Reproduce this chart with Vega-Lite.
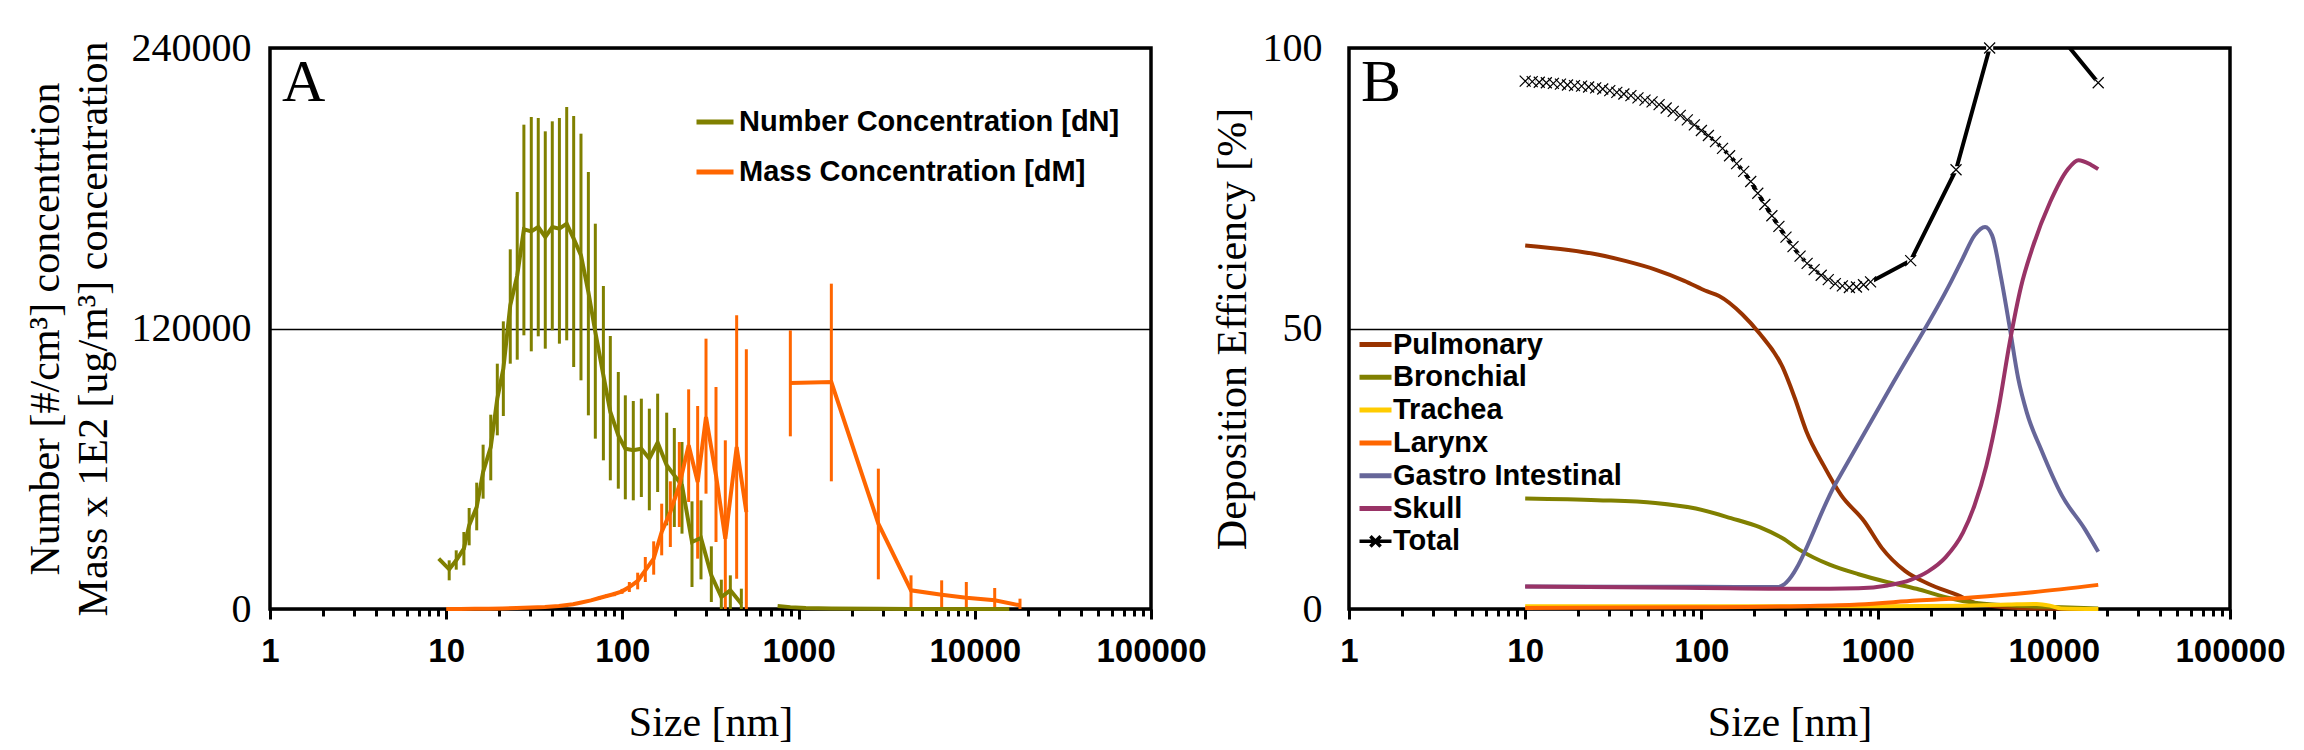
{
  "$schema": "https://vega.github.io/schema/vega-lite/v6.json",
  "background": "white",
  "padding": {"left": 22, "top": 26, "right": 5, "bottom": 0},
  "spacing": 1,
  "config": {
    "font": "Liberation Serif",
    "view": {"stroke": "#000000", "strokeWidth": 3.5},
    "axis": {"labelColor": "#000000", "titleColor": "#000000", "titleFont": "Liberation Serif", "titleFontWeight": "normal", "titleFontSize": 42},
    "legend": {"labelFont": "Liberation Sans", "labelFontWeight": "bold", "labelFontSize": 29, "labelColor": "#000000", "labelLimit": 700, "symbolType": "stroke", "symbolStrokeWidth": 5, "padding": 0, "labelOffset": 3, "orient": "none", "title": null},
    "title": {"font": "Liberation Serif", "fontWeight": "normal", "fontSize": 60, "color": "#000000", "anchor": "start", "frame": "group"}
  },
  "resolve": {"scale": {"color": "independent"}, "legend": {"color": "independent"}},
  "datasets": {
    "conc": [
      {"series": "Number Concentration [dN]", "seg": 1, "size": 9.07, "value": 21530, "lo": 21530, "hi": 21530},
      {"series": "Number Concentration [dN]", "seg": 1, "size": 10.4, "value": 16970, "lo": 12260, "hi": 20820},
      {"series": "Number Concentration [dN]", "seg": 1, "size": 11.4, "value": 20820, "lo": 16830, "hi": 25100},
      {"series": "Number Concentration [dN]", "seg": 1, "size": 12.6, "value": 25810, "lo": 18680, "hi": 32940},
      {"series": "Number Concentration [dN]", "seg": 1, "size": 13.5, "value": 35790, "lo": 27240, "hi": 43210},
      {"series": "Number Concentration [dN]", "seg": 1, "size": 14.9, "value": 43640, "lo": 33650, "hi": 54050},
      {"series": "Number Concentration [dN]", "seg": 1, "size": 16.2, "value": 58610, "lo": 47200, "hi": 70300},
      {"series": "Number Concentration [dN]", "seg": 1, "size": 17.9, "value": 69300, "lo": 55040, "hi": 83130},
      {"series": "Number Concentration [dN]", "seg": 1, "size": 19.5, "value": 89980, "lo": 74290, "hi": 104950},
      {"series": "Number Concentration [dN]", "seg": 1, "size": 21.1, "value": 102810, "lo": 82570, "hi": 123060},
      {"series": "Number Concentration [dN]", "seg": 1, "size": 23.1, "value": 129910, "lo": 104950, "hi": 153870},
      {"series": "Number Concentration [dN]", "seg": 1, "size": 25.3, "value": 142740, "lo": 106660, "hi": 178390},
      {"series": "Number Concentration [dN]", "seg": 1, "size": 27.6, "value": 162420, "lo": 117080, "hi": 207200},
      {"series": "Number Concentration [dN]", "seg": 1, "size": 30.4, "value": 161570, "lo": 110230, "hi": 210480},
      {"series": "Number Concentration [dN]", "seg": 1, "size": 33.3, "value": 163420, "lo": 116650, "hi": 210050},
      {"series": "Number Concentration [dN]", "seg": 1, "size": 36.5, "value": 159140, "lo": 111370, "hi": 204350},
      {"series": "Number Concentration [dN]", "seg": 1, "size": 40.0, "value": 163420, "lo": 119210, "hi": 208630},
      {"series": "Number Concentration [dN]", "seg": 1, "size": 43.9, "value": 162710, "lo": 113510, "hi": 210050},
      {"series": "Number Concentration [dN]", "seg": 1, "size": 48.3, "value": 164840, "lo": 114940, "hi": 214760},
      {"series": "Number Concentration [dN]", "seg": 1, "size": 52.9, "value": 158430, "lo": 103530, "hi": 210900},
      {"series": "Number Concentration [dN]", "seg": 1, "size": 58.2, "value": 151300, "lo": 97830, "hi": 203350},
      {"series": "Number Concentration [dN]", "seg": 1, "size": 64.1, "value": 135610, "lo": 82850, "hi": 186950},
      {"series": "Number Concentration [dN]", "seg": 1, "size": 70.2, "value": 118500, "lo": 72870, "hi": 164840},
      {"series": "Number Concentration [dN]", "seg": 1, "size": 78.0, "value": 99960, "lo": 63600, "hi": 138180},
      {"series": "Number Concentration [dN]", "seg": 1, "size": 85.4, "value": 84280, "lo": 55040, "hi": 116790},
      {"series": "Number Concentration [dN]", "seg": 1, "size": 94.8, "value": 74290, "lo": 51480, "hi": 101390},
      {"series": "Number Concentration [dN]", "seg": 1, "size": 103.9, "value": 68590, "lo": 46920, "hi": 91410},
      {"series": "Number Concentration [dN]", "seg": 1, "size": 115.3, "value": 67880, "lo": 46490, "hi": 88980},
      {"series": "Number Concentration [dN]", "seg": 1, "size": 128.1, "value": 68590, "lo": 47910, "hi": 89980},
      {"series": "Number Concentration [dN]", "seg": 1, "size": 142.2, "value": 64310, "lo": 42210, "hi": 85700},
      {"series": "Number Concentration [dN]", "seg": 1, "size": 158.5, "value": 71160, "lo": 50050, "hi": 92120},
      {"series": "Number Concentration [dN]", "seg": 1, "size": 178.4, "value": 61460, "lo": 35790, "hi": 83990},
      {"series": "Number Concentration [dN]", "seg": 1, "size": 197.1, "value": 57180, "lo": 35080, "hi": 77430},
      {"series": "Number Concentration [dN]", "seg": 1, "size": 217.9, "value": 52910, "lo": 32230, "hi": 71440},
      {"series": "Number Concentration [dN]", "seg": 1, "size": 248.3, "value": 28660, "lo": 9410, "hi": 46060},
      {"series": "Number Concentration [dN]", "seg": 1, "size": 279.3, "value": 30370, "lo": 12690, "hi": 46490},
      {"series": "Number Concentration [dN]", "seg": 1, "size": 319.7, "value": 14400, "lo": 2990, "hi": 26810},
      {"series": "Number Concentration [dN]", "seg": 1, "size": 364.3, "value": 5130, "lo": 0, "hi": 12550},
      {"series": "Number Concentration [dN]", "seg": 1, "size": 409.8, "value": 7990, "lo": 0, "hi": 14400},
      {"series": "Number Concentration [dN]", "seg": 1, "size": 473.2, "value": 2280, "lo": 0, "hi": 8700},
      {"series": "Number Concentration [dN]", "seg": 2, "size": 760, "value": 1300, "lo": 1300, "hi": 1300},
      {"series": "Number Concentration [dN]", "seg": 2, "size": 898, "value": 800, "lo": 800, "hi": 800},
      {"series": "Number Concentration [dN]", "seg": 2, "size": 1100, "value": 400, "lo": 400, "hi": 400},
      {"series": "Number Concentration [dN]", "seg": 2, "size": 1534, "value": 200, "lo": 200, "hi": 200},
      {"series": "Number Concentration [dN]", "seg": 2, "size": 2835, "value": 100, "lo": 100, "hi": 100},
      {"series": "Number Concentration [dN]", "seg": 2, "size": 4345, "value": 50, "lo": 50, "hi": 50},
      {"series": "Number Concentration [dN]", "seg": 2, "size": 6486, "value": 30, "lo": 30, "hi": 30},
      {"series": "Number Concentration [dN]", "seg": 2, "size": 8950, "value": 20, "lo": 20, "hi": 20},
      {"series": "Number Concentration [dN]", "seg": 2, "size": 12970, "value": 10, "lo": 10, "hi": 10},
      {"series": "Number Concentration [dN]", "seg": 2, "size": 15700, "value": 0, "lo": 0, "hi": 0},
      {"series": "Mass Concentration [dM]", "seg": 1, "size": 10.0, "value": 0, "lo": 0, "hi": 0},
      {"series": "Mass Concentration [dM]", "seg": 1, "size": 12.0, "value": 20, "lo": 20, "hi": 20},
      {"series": "Mass Concentration [dM]", "seg": 1, "size": 14.5, "value": 60, "lo": 60, "hi": 60},
      {"series": "Mass Concentration [dM]", "seg": 1, "size": 17.4, "value": 120, "lo": 120, "hi": 120},
      {"series": "Mass Concentration [dM]", "seg": 1, "size": 20.9, "value": 220, "lo": 220, "hi": 220},
      {"series": "Mass Concentration [dM]", "seg": 1, "size": 25.1, "value": 400, "lo": 350, "hi": 450},
      {"series": "Mass Concentration [dM]", "seg": 1, "size": 30.2, "value": 650, "lo": 550, "hi": 750},
      {"series": "Mass Concentration [dM]", "seg": 1, "size": 36.3, "value": 900, "lo": 750, "hi": 1050},
      {"series": "Mass Concentration [dM]", "seg": 1, "size": 43.6, "value": 1300, "lo": 1100, "hi": 1500},
      {"series": "Mass Concentration [dM]", "seg": 1, "size": 52.5, "value": 2000, "lo": 1700, "hi": 2400},
      {"series": "Mass Concentration [dM]", "seg": 1, "size": 58.5, "value": 2800, "lo": 2300, "hi": 3300},
      {"series": "Mass Concentration [dM]", "seg": 1, "size": 66.3, "value": 3710, "lo": 3100, "hi": 4300},
      {"series": "Mass Concentration [dM]", "seg": 1, "size": 74.0, "value": 4710, "lo": 4000, "hi": 5400},
      {"series": "Mass Concentration [dM]", "seg": 1, "size": 81.4, "value": 5560, "lo": 4800, "hi": 6300},
      {"series": "Mass Concentration [dM]", "seg": 1, "size": 90.0, "value": 6420, "lo": 5500, "hi": 7300},
      {"series": "Mass Concentration [dM]", "seg": 1, "size": 99.5, "value": 7560, "lo": 6500, "hi": 8600},
      {"series": "Mass Concentration [dM]", "seg": 1, "size": 109.5, "value": 9410, "lo": 7270, "hi": 11550},
      {"series": "Mass Concentration [dM]", "seg": 1, "size": 122.1, "value": 11980, "lo": 8410, "hi": 15540},
      {"series": "Mass Concentration [dM]", "seg": 1, "size": 134.9, "value": 16540, "lo": 11550, "hi": 22250},
      {"series": "Mass Concentration [dM]", "seg": 1, "size": 150.5, "value": 21530, "lo": 14690, "hi": 28950},
      {"series": "Mass Concentration [dM]", "seg": 1, "size": 167.1, "value": 32940, "lo": 22960, "hi": 45060},
      {"series": "Mass Concentration [dM]", "seg": 1, "size": 187.1, "value": 41500, "lo": 26520, "hi": 54620},
      {"series": "Mass Concentration [dM]", "seg": 1, "size": 210.4, "value": 52910, "lo": 35080, "hi": 71440},
      {"series": "Mass Concentration [dM]", "seg": 1, "size": 237.7, "value": 70020, "lo": 45770, "hi": 93970},
      {"series": "Mass Concentration [dM]", "seg": 1, "size": 267.4, "value": 54330, "lo": 21530, "hi": 86840},
      {"series": "Mass Concentration [dM]", "seg": 1, "size": 298.2, "value": 82140, "lo": 49340, "hi": 115650},
      {"series": "Mass Concentration [dM]", "seg": 1, "size": 339.8, "value": 57180, "lo": 28660, "hi": 94970},
      {"series": "Mass Concentration [dM]", "seg": 1, "size": 383.8, "value": 30090, "lo": 0, "hi": 72160},
      {"series": "Mass Concentration [dM]", "seg": 1, "size": 445.1, "value": 69300, "lo": 12980, "hi": 125630},
      {"series": "Mass Concentration [dM]", "seg": 1, "size": 505.1, "value": 41500, "lo": 0, "hi": 111090},
      {"series": "Mass Concentration [dM]", "seg": 2, "size": 897.6, "value": 96680, "lo": 73870, "hi": 119210},
      {"series": "Mass Concentration [dM]", "seg": 2, "size": 1534, "value": 97110, "lo": 54620, "hi": 139180},
      {"series": "Mass Concentration [dM]", "seg": 2, "size": 2835, "value": 36510, "lo": 12690, "hi": 60040},
      {"series": "Mass Concentration [dM]", "seg": 2, "size": 4345, "value": 7990, "lo": 0, "hi": 14400},
      {"series": "Mass Concentration [dM]", "seg": 2, "size": 6486, "value": 6130, "lo": 0, "hi": 12260},
      {"series": "Mass Concentration [dM]", "seg": 2, "size": 8950, "value": 4850, "lo": 0, "hi": 11550},
      {"series": "Mass Concentration [dM]", "seg": 2, "size": 12970, "value": 3710, "lo": 0, "hi": 8980},
      {"series": "Mass Concentration [dM]", "seg": 2, "size": 18050, "value": 1570, "lo": 0, "hi": 4420}
    ],
    "dep": [
      {"series": "Pulmonary", "size": 10, "value": 64.8},
      {"series": "Pulmonary", "size": 17.6, "value": 64.0},
      {"series": "Pulmonary", "size": 25.7, "value": 63.2},
      {"series": "Pulmonary", "size": 37.4, "value": 62.0},
      {"series": "Pulmonary", "size": 54.8, "value": 60.5},
      {"series": "Pulmonary", "size": 80, "value": 58.5},
      {"series": "Pulmonary", "size": 108, "value": 56.6},
      {"series": "Pulmonary", "size": 126, "value": 55.8},
      {"series": "Pulmonary", "size": 171, "value": 52.5},
      {"series": "Pulmonary", "size": 214, "value": 49.1},
      {"series": "Pulmonary", "size": 289, "value": 43.1},
      {"series": "Pulmonary", "size": 338, "value": 37.7},
      {"series": "Pulmonary", "size": 394, "value": 31.7},
      {"series": "Pulmonary", "size": 494, "value": 25.6},
      {"series": "Pulmonary", "size": 621, "value": 20.3},
      {"series": "Pulmonary", "size": 841, "value": 15.6},
      {"series": "Pulmonary", "size": 1056, "value": 10.9},
      {"series": "Pulmonary", "size": 1430, "value": 6.8},
      {"series": "Pulmonary", "size": 1937, "value": 4.5},
      {"series": "Pulmonary", "size": 2830, "value": 2.5},
      {"series": "Pulmonary", "size": 3833, "value": 0.8},
      {"series": "Pulmonary", "size": 7590, "value": 0.1},
      {"series": "Pulmonary", "size": 17870, "value": 0},
      {"series": "Bronchial", "size": 10, "value": 19.7},
      {"series": "Bronchial", "size": 25.7, "value": 19.4},
      {"series": "Bronchial", "size": 54.8, "value": 18.9},
      {"series": "Bronchial", "size": 93, "value": 17.9},
      {"series": "Bronchial", "size": 147, "value": 16.2},
      {"series": "Bronchial", "size": 214, "value": 14.6},
      {"series": "Bronchial", "size": 289, "value": 12.6},
      {"series": "Bronchial", "size": 363, "value": 10.5},
      {"series": "Bronchial", "size": 534, "value": 7.9},
      {"series": "Bronchial", "size": 780, "value": 6.2},
      {"series": "Bronchial", "size": 1140, "value": 4.8},
      {"series": "Bronchial", "size": 1665, "value": 3.6},
      {"series": "Bronchial", "size": 2430, "value": 2.1},
      {"series": "Bronchial", "size": 3550, "value": 1.1},
      {"series": "Bronchial", "size": 5190, "value": 0.7},
      {"series": "Bronchial", "size": 11090, "value": 0.3},
      {"series": "Bronchial", "size": 17870, "value": 0.1},
      {"series": "Trachea", "size": 10, "value": 0.5},
      {"series": "Trachea", "size": 100, "value": 0.5},
      {"series": "Trachea", "size": 1000, "value": 0.5},
      {"series": "Trachea", "size": 3000, "value": 0.6},
      {"series": "Trachea", "size": 5500, "value": 0.8},
      {"series": "Trachea", "size": 8000, "value": 0.9},
      {"series": "Trachea", "size": 9500, "value": 0.6},
      {"series": "Trachea", "size": 11000, "value": 0.1},
      {"series": "Trachea", "size": 17870, "value": 0},
      {"series": "Larynx", "size": 10, "value": 0.2},
      {"series": "Larynx", "size": 100, "value": 0.3},
      {"series": "Larynx", "size": 363, "value": 0.5},
      {"series": "Larynx", "size": 780, "value": 0.8},
      {"series": "Larynx", "size": 1665, "value": 1.5},
      {"series": "Larynx", "size": 3550, "value": 2.1},
      {"series": "Larynx", "size": 7590, "value": 3.0},
      {"series": "Larynx", "size": 17870, "value": 4.3},
      {"series": "Gastro Intestinal", "size": 10, "value": 4.0},
      {"series": "Gastro Intestinal", "size": 100, "value": 3.95},
      {"series": "Gastro Intestinal", "size": 270, "value": 3.9},
      {"series": "Gastro Intestinal", "size": 576, "value": 22.3},
      {"series": "Gastro Intestinal", "size": 1230, "value": 40.4},
      {"series": "Gastro Intestinal", "size": 2625, "value": 58.5},
      {"series": "Gastro Intestinal", "size": 3052, "value": 62.6},
      {"series": "Gastro Intestinal", "size": 3550, "value": 66.6},
      {"series": "Gastro Intestinal", "size": 4075, "value": 68.1},
      {"series": "Gastro Intestinal", "size": 4465, "value": 66.6},
      {"series": "Gastro Intestinal", "size": 5010, "value": 59.2},
      {"series": "Gastro Intestinal", "size": 5600, "value": 50.5},
      {"series": "Gastro Intestinal", "size": 6280, "value": 41.1},
      {"series": "Gastro Intestinal", "size": 7030, "value": 35.0},
      {"series": "Gastro Intestinal", "size": 8510, "value": 28.3},
      {"series": "Gastro Intestinal", "size": 11090, "value": 20.3},
      {"series": "Gastro Intestinal", "size": 15030, "value": 14.2},
      {"series": "Gastro Intestinal", "size": 17870, "value": 10.2},
      {"series": "Skull", "size": 10, "value": 4.0},
      {"series": "Skull", "size": 80, "value": 3.8},
      {"series": "Skull", "size": 363, "value": 3.6},
      {"series": "Skull", "size": 780, "value": 3.7},
      {"series": "Skull", "size": 1140, "value": 4.2},
      {"series": "Skull", "size": 1541, "value": 5.2},
      {"series": "Skull", "size": 1937, "value": 6.7},
      {"series": "Skull", "size": 2430, "value": 9.2},
      {"series": "Skull", "size": 3052, "value": 13.6},
      {"series": "Skull", "size": 3550, "value": 18.5},
      {"series": "Skull", "size": 4140, "value": 25.5},
      {"series": "Skull", "size": 4855, "value": 35.7},
      {"series": "Skull", "size": 5620, "value": 47.5},
      {"series": "Skull", "size": 6520, "value": 57.5},
      {"series": "Skull", "size": 7590, "value": 64.5},
      {"series": "Skull", "size": 9520, "value": 72.5},
      {"series": "Skull", "size": 11960, "value": 78.3},
      {"series": "Skull", "size": 13800, "value": 80.0},
      {"series": "Skull", "size": 16220, "value": 79.2},
      {"series": "Skull", "size": 17870, "value": 78.4},
      {"series": "Total", "size": 10, "value": 94.1},
      {"series": "Total", "size": 10.96, "value": 94.0},
      {"series": "Total", "size": 12.02, "value": 93.9},
      {"series": "Total", "size": 13.18, "value": 93.8},
      {"series": "Total", "size": 14.45, "value": 93.7},
      {"series": "Total", "size": 15.85, "value": 93.55},
      {"series": "Total", "size": 17.38, "value": 93.4},
      {"series": "Total", "size": 19.05, "value": 93.3},
      {"series": "Total", "size": 20.89, "value": 93.2},
      {"series": "Total", "size": 22.91, "value": 93.05},
      {"series": "Total", "size": 25.12, "value": 92.9},
      {"series": "Total", "size": 27.54, "value": 92.7},
      {"series": "Total", "size": 30.2, "value": 92.4},
      {"series": "Total", "size": 33.11, "value": 92.1},
      {"series": "Total", "size": 36.31, "value": 91.8},
      {"series": "Total", "size": 39.81, "value": 91.5},
      {"series": "Total", "size": 43.65, "value": 91.1},
      {"series": "Total", "size": 47.86, "value": 90.7},
      {"series": "Total", "size": 52.48, "value": 90.4},
      {"series": "Total", "size": 57.54, "value": 89.9},
      {"series": "Total", "size": 63.1, "value": 89.3},
      {"series": "Total", "size": 69.18, "value": 88.7},
      {"series": "Total", "size": 75.86, "value": 88.0},
      {"series": "Total", "size": 83.18, "value": 87.2},
      {"series": "Total", "size": 91.2, "value": 86.3},
      {"series": "Total", "size": 100, "value": 85.3},
      {"series": "Total", "size": 109.6, "value": 84.4},
      {"series": "Total", "size": 120.2, "value": 83.3},
      {"series": "Total", "size": 131.8, "value": 82.1},
      {"series": "Total", "size": 144.5, "value": 80.8},
      {"series": "Total", "size": 158.5, "value": 79.4},
      {"series": "Total", "size": 173.8, "value": 78.0},
      {"series": "Total", "size": 190.5, "value": 76.2},
      {"series": "Total", "size": 208.9, "value": 74.1},
      {"series": "Total", "size": 229.1, "value": 72.1},
      {"series": "Total", "size": 251.2, "value": 70.1},
      {"series": "Total", "size": 275.4, "value": 68.2},
      {"series": "Total", "size": 302.0, "value": 66.3},
      {"series": "Total", "size": 331.1, "value": 64.6},
      {"series": "Total", "size": 363.1, "value": 62.9},
      {"series": "Total", "size": 398.1, "value": 61.6},
      {"series": "Total", "size": 436.5, "value": 60.5},
      {"series": "Total", "size": 478.6, "value": 59.5},
      {"series": "Total", "size": 524.8, "value": 58.7},
      {"series": "Total", "size": 575.4, "value": 58.0},
      {"series": "Total", "size": 631.0, "value": 57.6},
      {"series": "Total", "size": 691.8, "value": 57.3},
      {"series": "Total", "size": 758.6, "value": 57.4},
      {"series": "Total", "size": 831.8, "value": 57.8},
      {"series": "Total", "size": 912.0, "value": 58.3},
      {"series": "Total", "size": 1541, "value": 62.1},
      {"series": "Total", "size": 2787, "value": 78.3},
      {"series": "Total", "size": 4325, "value": 100},
      {"series": "Total", "size": 8600, "value": 106},
      {"series": "Total", "size": 17870, "value": 93.8}
    ]
  },
  "hconcat": [
    {
      "width": 881,
      "height": 561,
      "title": {"text": "A", "offset": -86, "dx": 12},
      "resolve": {"axis": {"x": "independent"}},
      "layer": [
        {
          "data": {"name": "conc"},
          "mark": {"type": "rule", "strokeWidth": 3},
          "encoding": {
            "x": {
              "field": "size", "type": "quantitative",
              "scale": {"type": "log", "domain": [1, 100000], "nice": false},
              "axis": {"values": [1, 10, 100, 1000, 10000, 100000], "format": "d", "title": "Size [nm]", "titlePadding": 34, "labelFont": "Liberation Sans", "labelFontWeight": "bold", "labelFontSize": 33, "labelPadding": 16, "tickSize": 10, "tickWidth": 3, "tickColor": "#000000", "domain": false, "grid": false, "labelFlush": false, "labelOverlap": false}
            },
            "y": {
              "field": "lo", "type": "quantitative",
              "scale": {"domain": [0, 240000], "nice": false},
              "axis": {"values": [0, 120000, 240000], "format": "d", "title": ["Number [#/cm³] concentrtion", "Mass x 1E2 [ug/m³] concentration"], "titleLineHeight": 48, "titlePadding": 16, "labelFont": "Liberation Serif", "labelFontSize": 40, "labelPadding": 19, "ticks": true, "tickSize": 0, "domain": false, "grid": true, "gridColor": "#000000", "gridWidth": 1.7, "gridOpacity": 1}
            },
            "y2": {"field": "hi"},
            "color": {
              "field": "series", "type": "nominal",
              "scale": {"domain": ["Number Concentration [dN]", "Mass Concentration [dM]"], "range": ["#808000", "#FF6600"]},
              "legend": {"legendX": 424, "legendY": 53, "symbolSize": 1369, "rowPadding": 14}
            }
          }
        },
        {
          "data": {"name": "conc"},
          "mark": {"type": "line", "strokeWidth": 4},
          "encoding": {
            "x": {
              "field": "size", "type": "quantitative",
              "axis": {"orient": "bottom", "values": [2, 3, 4, 5, 6, 7, 8, 9, 20, 30, 40, 50, 60, 70, 80, 90, 200, 300, 400, 500, 600, 700, 800, 900, 2000, 3000, 4000, 5000, 6000, 7000, 8000, 9000, 20000, 30000, 40000, 50000, 60000, 70000, 80000, 90000], "labels": false, "title": null, "tickSize": 7, "tickWidth": 3, "tickColor": "#000000", "domain": false, "grid": false}
            },
            "y": {
              "field": "value", "type": "quantitative",
              "axis": {"values": [0, 120000, 240000], "format": "d", "title": ["Number [#/cm³] concentrtion", "Mass x 1E2 [ug/m³] concentration"], "titleLineHeight": 48, "titlePadding": 16, "labelFont": "Liberation Serif", "labelFontSize": 40, "labelPadding": 19, "ticks": true, "tickSize": 0, "domain": false, "grid": true, "gridColor": "#000000", "gridWidth": 1.7, "gridOpacity": 1}
            },
            "color": {"field": "series", "type": "nominal"},
            "detail": {"field": "seg", "type": "nominal"}
          }
        }
      ]
    },
    {
      "width": 881,
      "height": 561,
      "title": {"text": "B", "offset": -86, "dx": 12},
      "resolve": {"axis": {"x": "independent"}},
      "layer": [
        {
          "data": {"name": "dep"},
          "transform": [{"filter": "datum.series !== 'Total'"}],
          "mark": {"type": "line", "strokeWidth": 4, "interpolate": "monotone"},
          "encoding": {
            "x": {
              "field": "size", "type": "quantitative",
              "scale": {"type": "log", "domain": [1, 100000], "nice": false},
              "axis": {"values": [1, 10, 100, 1000, 10000, 100000], "format": "d", "title": "Size [nm]", "titlePadding": 34, "labelFont": "Liberation Sans", "labelFontWeight": "bold", "labelFontSize": 33, "labelPadding": 16, "tickSize": 10, "tickWidth": 3, "tickColor": "#000000", "domain": false, "grid": false, "labelFlush": false, "labelOverlap": false}
            },
            "y": {
              "field": "value", "type": "quantitative",
              "scale": {"domain": [0, 100], "nice": false},
              "axis": {"values": [0, 50, 100], "title": "Deposition Efficiency [%]", "titlePadding": 8, "labelFont": "Liberation Serif", "labelFontSize": 40, "labelPadding": 27, "ticks": true, "tickSize": 0, "domain": false, "grid": true, "gridColor": "#000000", "gridWidth": 1.7, "gridOpacity": 1}
            },
            "color": {
              "field": "series", "type": "nominal",
              "scale": {"domain": ["Pulmonary", "Bronchial", "Trachea", "Larynx", "Gastro Intestinal", "Skull", "Total"], "range": ["#993300", "#808000", "#FFCC00", "#FF6600", "#666699", "#993366", "#000000"]},
              "legend": {
                "legendX": 12, "legendY": 282, "symbolSize": 1024, "rowPadding": 2.8, "symbolType": "stroke",
                "encode": {"symbols": {"update": {
                  "shape": {"signal": "datum.label === 'Total' ? 'M-1,0H1M-0.32,-0.32L0.32,0.32M-0.32,0.32L0.32,-0.32' : 'stroke'"},
                  "strokeWidth": {"signal": "datum.label === 'Total' ? 3.5 : 5"}
                }}}
              }
            }
          }
        },
        {
          "data": {"name": "dep"},
          "transform": [{"filter": "datum.series === 'Total'"}],
          "mark": {"type": "line", "strokeWidth": 4, "clip": true},
          "encoding": {
            "x": {
              "field": "size", "type": "quantitative",
              "axis": {"orient": "bottom", "values": [2, 3, 4, 5, 6, 7, 8, 9, 20, 30, 40, 50, 60, 70, 80, 90, 200, 300, 400, 500, 600, 700, 800, 900, 2000, 3000, 4000, 5000, 6000, 7000, 8000, 9000, 20000, 30000, 40000, 50000, 60000, 70000, 80000, 90000], "labels": false, "title": null, "tickSize": 7, "tickWidth": 3, "tickColor": "#000000", "domain": false, "grid": false}
            },
            "y": {
              "field": "value", "type": "quantitative",
              "axis": {"values": [0, 50, 100], "title": "Deposition Efficiency [%]", "titlePadding": 8, "labelFont": "Liberation Serif", "labelFontSize": 40, "labelPadding": 27, "ticks": true, "tickSize": 0, "domain": false, "grid": true, "gridColor": "#000000", "gridWidth": 1.7, "gridOpacity": 1}
            },
            "color": {"field": "series", "type": "nominal"}
          }
        },
        {
          "data": {"name": "dep"},
          "transform": [{"filter": "datum.series === 'Total' && datum.value <= 100"}],
          "mark": {"type": "point", "shape": "square", "filled": true, "fill": "#ffffff", "stroke": null, "size": 50, "opacity": 1},
          "encoding": {
            "x": {"field": "size", "type": "quantitative", "axis": null},
            "y": {"field": "value", "type": "quantitative"}
          }
        },
        {
          "data": {"name": "dep"},
          "transform": [{"filter": "datum.series === 'Total' && datum.value <= 100"}],
          "mark": {"type": "point", "shape": "M-1,-1L1,1M-1,1L1,-1", "filled": false, "stroke": "#000000", "strokeWidth": 1.2, "size": 121, "opacity": 1},
          "encoding": {
            "x": {"field": "size", "type": "quantitative", "axis": null},
            "y": {"field": "value", "type": "quantitative"}
          }
        }
      ]
    }
  ]
}
